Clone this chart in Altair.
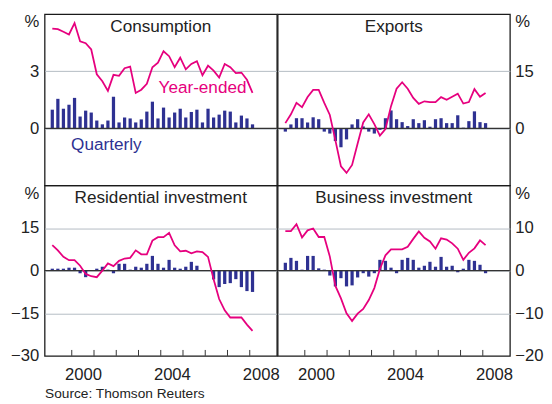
import altair as alt
import pandas as pd

quarters = [f"{1999 + i // 4}Q{i % 4 + 1}" for i in range(37)]

cons_q = [0.98, 1.55, 1.03, 1.24, 1.6, 0.62, 0.93, 0.83, 0.41, 0.21, 0.41, 1.66, 0.31,
          0.57, 0.52, 0.31, 0.47, 0.88, 1.4, 0.52, 1.09, 0.57, 0.83, 1.03, 0.57, 0.86,
          0.98, 0.31, 1.03, 0.57, 0.72, 0.93, 0.88, 0.31, 0.67, 0.52, 0.21]
cons_y = [5.24, 5.21, 5.07, 4.93, 5.53, 4.57, 4.47, 4.14, 2.84, 2.47, 1.97, 2.81, 2.76,
          3.16, 3.24, 1.86, 2.03, 2.34, 3.21, 3.45, 4.05, 3.79, 3.21, 3.71, 3.10, 3.38,
          3.53, 2.79, 3.29, 3.03, 2.67, 3.38, 3.21, 2.90, 2.93, 2.55, 1.86]

exp_q = [-0.86, 1.03, 2.66, 2.66, 1.54, 2.9, 2.4, -0.86, -1.37, -3.34, -4.97, -2.9, 1.03,
         2.4, 0.5, -0.86, -1.37, -0.4, 2.66, 4.7, 2.4, 1.63, 0.6, 2.4, 1.37, 2.14,
         0.43, 2.4, 2.66, 1.37, 1.37, 3.43, 0.17, 1.89, 4.46, 1.63, 1.37]
exp_y = [1.37, 3.68, 6.68, 5.57, 8.23, 10.1, 10.1, 6.68, 3.51, -3.17, -10.0, -11.7, -9.6,
         -4.0, 1.54, 3.68, 1.11, -1.89, -0.17, 5.83, 10.4, 12.1, 10.4, 8.0, 6.43, 7.1,
         6.9, 6.9, 8.2, 7.5, 8.3, 9.1, 6.5, 6.9, 10.3, 8.3, 9.3]

res_q = [0.69, 0.69, 0.69, 1.04, 1.04, -0.92, -2.3, 0.05, 0.69, 1.38, 0.35, -0.92, 2.42,
         2.42, 0.35, 1.38, 1.04, 2.42, 5.2, 2.42, 1.04, 3.8, 1.04, 0.69, 1.38, 3.1,
         1.73, 0.1, -0.1, -3.1, -5.8, -4.7, -4.4, -3.0, -5.8, -7.2, -7.5]
res_y = [9.0, 7.15, 4.85, 3.7, 3.7, 1.73, -1.15, -1.96, -2.3, 0.0, 2.54, 1.6, 3.46,
         4.27, 4.5, 7.15, 5.77, 5.77, 10.6, 11.8, 11.8, 13.3, 8.9, 6.8, 7.0, 6.1,
         6.8, 6.5, 4.85, -3.0, -10.0, -14.0, -16.5, -16.5, -16.5, -19.0, -21.2]

bus_q = [1.85, 3.0, 2.3, 0.23, 3.46, 3.46, 0.54, 0.23, -1.15, -3.7, -1.77, -3.7, -3.46,
         -1.6, -0.6, -1.4, -0.6, 2.54, 2.3, 0.7, -0.6, 2.54, 3.0, 2.54, 0.7, 1.15,
         2.08, 0.92, 3.23, 0.92, 1.15, -0.38, 0.46, 2.54, 2.3, 1.38, -0.6]
bus_y = [9.3, 9.3, 10.9, 7.8, 9.46, 9.9, 7.9, 7.9, 3.3, -3.6, -6.5, -10.0, -11.8,
         -10.1, -9.0, -6.9, -4.1, 0.4, 3.6, 5.0, 5.0, 5.0, 5.6, 7.46, 9.2, 7.7,
         6.85, 5.15, 7.6, 7.3, 6.4, 5.15, 2.54, 4.2, 5.23, 7.1, 6.0]

year_bounds = list(range(2000, 2009))
year_labels = [2000, 2004, 2008]

BLUE = "#2E3192"
MAGENTA = "#E6007E"
GRID = "#B3BBC3"
TEXT = "#222222"
FONT = "Liberation Sans"


def qtime(label):
    return int(label[:4]) + (int(label[-1]) - 0.5) / 4


def panel(title, q, y, domain, ticks, orient, bottom, w, h, source=None, notes=None):
    df = pd.DataFrame({"t": [qtime(s) for s in quarters], "q": q, "y": y})
    xs = alt.Scale(domain=[1999, 2009], nice=False, zero=False)
    ys = alt.Scale(domain=domain, nice=False, zero=False)
    lo, top = domain
    yaxis = alt.Axis(
        orient=orient, values=ticks, ticks=False, domain=False, grid=True,
        gridColor={"condition": {"test": f"datum.value == {top} || datum.value == {lo}",
                                 "value": "transparent"}, "value": GRID},
        gridWidth=1, labelPadding=6 if orient == "left" else 5, labelFontSize=17,
        labelFont=FONT, labelColor=TEXT, title=None,
        labelExpr=f"datum.value == {top} ? '%' : datum.label",
        labelBaseline={"condition": {"test": f"datum.value == {top}", "value": "top"},
                       "value": "middle"},
    )
    if bottom:
        xaxis = alt.Axis(
            values=[v + 0.5 for v in year_labels], labelExpr="floor(datum.value)",
            ticks=False, domain=False, grid=False, labelPadding=11,
            labelFontSize=17, labelFont=FONT, labelColor=TEXT, labelOverlap=False,
            labelFlush=False,
            title=source, titleAnchor="start", titleFontSize=14, titleFont=FONT,
            titleFontWeight="normal", titleColor=TEXT, titlePadding=5,
        )
    else:
        xaxis = None

    def X(field):
        return alt.X(field, scale=xs, axis=xaxis, title=source if bottom else None)

    def Y(field):
        return alt.Y(field, scale=ys, axis=yaxis, title=None)

    bars = alt.Chart(df).mark_bar(size=3.3, color=BLUE).encode(x=X("t:Q"), y=Y("q:Q"))
    zero = alt.Chart(pd.DataFrame({"z": [0]})).mark_rule(
        color="#333333", strokeWidth=1.2).encode(y=Y("z:Q"))
    line = alt.Chart(df).mark_line(color=MAGENTA, strokeWidth=1.8).encode(
        x=X("t:Q"), y=Y("y:Q"))
    ttl = alt.Chart(pd.DataFrame({"lab": [title]})).mark_text(
        fontSize=17.5, font=FONT, color=TEXT, baseline="middle", align="center"
    ).encode(x=alt.value(w / 2), y=alt.value(13), text="lab:N")
    layers = [bars, zero, line, ttl]
    if bottom:
        tk = alt.Chart(pd.DataFrame({"yr": year_bounds})).mark_rule(
            color="#333333", strokeWidth=1).encode(
            x=X("yr:Q"), y=alt.value(h - 6), y2=alt.value(h))
        layers.append(tk)
    if notes:
        nd = pd.DataFrame(notes)
        for _, r in nd.iterrows():
            n = alt.Chart(pd.DataFrame([r])).mark_text(
                fontSize=17.5, font=FONT, color=r["color"], align="left", baseline="middle"
            ).encode(x=X("nx:Q"), y=Y("ny:Q"), text="txt:N")
            layers.append(n)
    return alt.layer(*layers).properties(width=w, height=h)


W = 237.2
p1 = panel("Consumption", cons_q, cons_y, [-3, 6], [0, 3, 6], "left", False, W, 175,
           notes={"nx": [2003.9, 1999.97], "ny": [2.12, -0.88],
                  "txt": ["Year-ended", "Quarterly"], "color": [MAGENTA, BLUE]})
p2 = panel("Exports", exp_q, exp_y, [-15, 30], [0, 15, 30], "right", False, W, 175)
p3 = panel("Residential investment", res_q, res_y, [-30, 30], [-30, -15, 0, 15, 30],
           "left", True, W, 174, source="Source: Thomson Reuters")
p4 = panel("Business investment", bus_q, bus_y, [-20, 20], [-20, -10, 0, 10, 20],
           "right", True, W, 174)

chart = alt.concat(
    p1, p2, p3, p4, columns=2, spacing=0, bounds="flush"
).properties(
    padding={"left": 1.4, "top": 0, "right": 0, "bottom": 0}, background="white"
).configure_view(stroke="#1a1a1a", strokeWidth=1.3)

chart.save("out.html", embed_options={"renderer": "svg", "actions": False})
